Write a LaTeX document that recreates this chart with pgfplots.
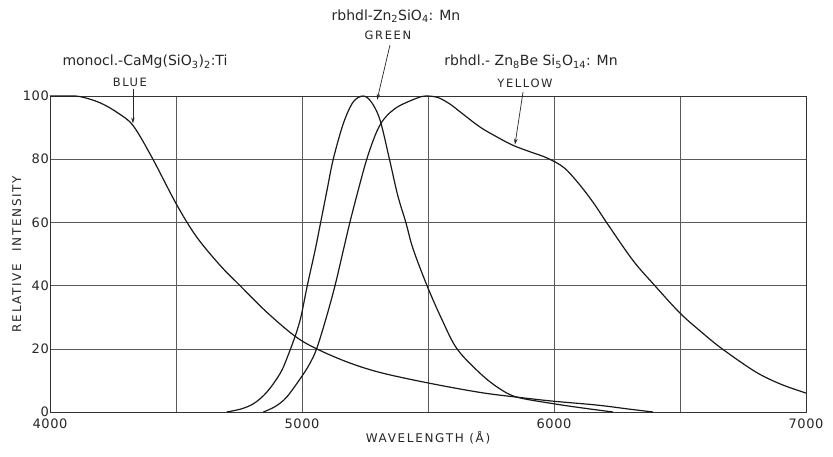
\documentclass[border=0pt]{standalone}
\usepackage{fontspec}
\setmainfont{DejaVu Sans}
\newfontfamily\spaced[LetterSpace=14]{DejaVu Sans}
\newfontfamily\tickfont[LetterSpace=4]{DejaVu Sans}
\usepackage{pgfplots}
\pgfplotsset{compat=1.18}
\usetikzlibrary{arrows.meta}
\pgfplotsset{curve/.style={black!90, line width=1.2pt, smooth, tension=0.55, mark=none}}
\begin{document}
\begin{tikzpicture}
\begin{axis}[
  name=ax,
  scale only axis,
  width=756pt, height=316pt,
  xmin=4000, xmax=7000, ymin=0, ymax=100,
  xtick={4000,5000,6000,7000},
  minor xtick={4500,5500,6500},
  ytick={0,20,40,60,80,100},
  grid=both,
  major grid style={draw=black!65, line width=0.6pt},
  minor grid style={draw=black!65, line width=0.6pt},
  axis line style={draw=black!80, line width=0.9pt},
  major tick length=0pt, minor tick length=0pt,
  /pgf/number format/assume math mode=true,
  /pgf/number format/set thousands separator={},
  tick label style={font=\fontsize{13}{15}\selectfont\tickfont, text=black!85},
  yticklabel style={inner sep=1pt},
  xticklabel style={inner sep=2pt, yshift=-5pt},
  xlabel={\spaced WAVELENGTH (Å)},
  ylabel={\spaced RELATIVE\quad INTENSITY},
  label style={font=\fontsize{12}{14}\selectfont, text=black!85},
  xlabel style={yshift=3pt},
  ylabel style={yshift=-3pt},
  clip=false,
]
% BLUE
\addplot[curve] coordinates {
(4000,100) (4060,100) (4120,99.8) (4200,97.8) (4270,94.6) (4330,90.6) (4405,80.5) (4500,66)
(4580,55.6) (4675,46.4) (4754,40) (4860,31.6) (4972,24) (5058,20) (5180,15.8) (5310,12.5)
(5500,9.2) (5706,6.2) (5853,4.7) (6000,3.4) (6170,2.2) (6300,0.9) (6393,0)
};
% GREEN
\addplot[curve] coordinates {
(4701,0) (4760,1.0) (4807,2.6) (4850,5.4) (4886,8.9) (4920,13.2) (4946,18.2) (4975,24.5) (4996,30.2)
(5021,40) (5052,51.2) (5074,60) (5100,70.5) (5124,80) (5164,91.3) (5203,98.1) (5243,100)
(5276,98) (5310,92.3) (5347,80) (5380,68.5) (5412,60) (5440,51.8) (5496,40) (5555,29.3) (5615,20)
(5706,12.3) (5780,7.6) (5853,4.7) (6000,2.6) (6120,1.2) (6234,0)
};
% YELLOW
\addplot[curve] coordinates {
(4847,0) (4895,1.8) (4939,4.7) (4996,10.9) (5030,15.2) (5058,20) (5095,29.5) (5131,40) (5164,51.2)
(5190,60) (5225,70.8) (5257,80) (5290,87.5) (5317,91.8) (5350,94.8) (5389,97) (5455,99.3) (5490,100)
(5540,99.5) (5590,97.3) (5627,95) (5706,90.2) (5770,87.2) (5837,84.4) (5910,82.2) (5972,80.4) (6040,77.3) (6103,71.8)
(6160,65.8) (6210,59.8) (6313,48) (6400,40) (6500,31.3) (6585,25.3) (6667,20) (6800,12.7) (6900,8.8) (7000,6.0)
};
% labels
\node[font=\fontsize{14}{16}\selectfont, text=black!85] at (axis cs:4377,110.8)
  {monocl.-CaMg(SiO\textsubscript{3})\textsubscript{2}:Ti};
\node[font=\fontsize{11.5}{13}\selectfont\spaced, text=black!85] at (axis cs:4317,104.4) {BLUE};
\draw[black!85, line width=0.7pt, -{Stealth[length=6pt,width=3.5pt]}] (axis cs:4329,102.3) -- (axis cs:4329,91.3);

\node[font=\fontsize{14}{16}\selectfont, text=black!85] at (axis cs:5373,125.3)
  {rbhdl-Zn\textsubscript{2}SiO\textsubscript{4}: Mn};
\node[font=\fontsize{11.5}{13}\selectfont\spaced, text=black!85] at (axis cs:5341,119.3) {GREEN};
\draw[black!85, line width=0.7pt, -{Stealth[length=6pt,width=3.5pt]}] (axis cs:5349,116.1) -- (axis cs:5298,98.8);

\node[font=\fontsize{14}{16}\selectfont, text=black!85] at (axis cs:5909,110.8)
  {rbhdl.- Zn\textsubscript{8}Be Si\textsubscript{5}O\textsubscript{14}: Mn};
\node[font=\fontsize{11.5}{13}\selectfont\spaced, text=black!85] at (axis cs:5885,104.1) {YELLOW};
\draw[black!85, line width=0.7pt, -{Stealth[length=6pt,width=3.5pt]}] (axis cs:5877,101.2) -- (axis cs:5845,84.6);
\end{axis}
\path ([xshift=-50pt,yshift=-44pt]ax.south west) rectangle ([xshift=27pt,yshift=96pt]ax.north east);
\end{tikzpicture}
\end{document}
